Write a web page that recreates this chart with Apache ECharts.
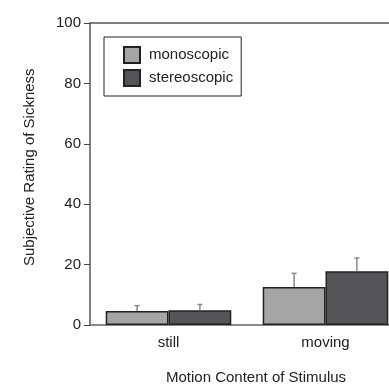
<!DOCTYPE html>
<html>
<head>
<meta charset="utf-8">
<script src="https://cdn.jsdelivr.net/npm/echarts@6/dist/echarts.min.js"></script>
<style>
  html, body { margin: 0; padding: 0; background: #fff; }
  #chart { width: 389px; height: 388px; }
</style>
</head>
<body>
<div id="chart"></div>
<script>
const categories = ['still', 'moving'];
const seriesNames = ['monoscopic', 'stereoscopic'];
const monoValues = [4.6, 12.6];
const stereoValues = [4.9, 17.8];
const monoUpper = [6.4, 17.1];
const stereoUpper = [6.8, 22.2];
const yTicks = [0, 20, 40, 60, 80, 100];

const FONT = '"Liberation Sans", Arial, sans-serif';
const colors = ['#a5a5a5', '#555557'];

const chart = echarts.init(document.getElementById('chart'));

// error bars drawn only upward, offset to sit on each bar's centre
const errorSeries = (values, upper, side) => ({
  type: 'custom',
  silent: true,
  z: 5,
  data: values.map((v, i) => [i, v, upper[i]]),
  renderItem: (params, api) => {
    const band = api.size([1, 0])[0];
    const cx = api.coord([api.value(0), 0])[0] + side * band * 0.2;
    const yBase = api.coord([api.value(0), api.value(1)])[1];
    const yTop = api.coord([api.value(0), api.value(2)])[1];
    const style = { stroke: '#8a8a8a', lineWidth: 1.5 };
    return {
      type: 'group',
      children: [
        { type: 'line', shape: { x1: cx, y1: yBase, x2: cx, y2: yTop }, style },
        { type: 'line', shape: { x1: cx - 2.5, y1: yTop, x2: cx + 2.5, y2: yTop }, style }
      ]
    };
  }
});

const option = {
  animation: false,
  textStyle: { fontFamily: FONT },
  grid: { left: 90, right: -15, top: 23, bottom: 63, outerBoundsMode: 'none', containLabel: false },
  legend: {
    data: seriesNames,
    orient: 'vertical',
    left: 104,
    top: 37,
    padding: [9, 8, 9, 19],
    itemGap: 5,
    itemWidth: 16,
    itemHeight: 16,
    icon: 'rect',
    borderColor: '#222',
    borderWidth: 1,
    textStyle: { fontSize: 15, color: '#222', fontFamily: FONT, padding: [0, 0, 0, 4], lineHeight: 16 }
  },
  xAxis: [
    {
      type: 'category',
      data: categories,
      axisLine: { lineStyle: { color: '#666', width: 1.5 } },
      axisTick: { inside: true, length: 6, lineStyle: { color: '#222', width: 2 } },
      axisLabel: { fontSize: 15, color: '#222', margin: 10 }
    },
    {
      type: 'category',
      data: categories,
      position: 'top',
      axisLine: { lineStyle: { color: '#555', width: 1.5 } },
      axisTick: { show: false },
      axisLabel: { show: false }
    }
  ],
  yAxis: {
    type: 'value',
    min: yTicks[0],
    max: yTicks[yTicks.length - 1],
    interval: 20,
    axisLine: { show: true, lineStyle: { color: '#555', width: 1.5 } },
    axisTick: { show: true, length: 6, lineStyle: { color: '#444', width: 1 } },
    axisLabel: { fontSize: 15, color: '#222', margin: 9 },
    splitLine: { show: false }
  },
  graphic: [
    {
      type: 'text',
      x: 166,
      y: 370,
      style: { text: 'Motion Content of Stimulus', fill: '#222', font: '15px ' + FONT }
    },
    {
      type: 'text',
      x: 22,
      y: 266,
      rotation: Math.PI / 2,
      style: { text: 'Subjective Rating of Sickness', fill: '#222', font: '15px ' + FONT }
    }
  ],
  series: [
    {
      name: seriesNames[0],
      type: 'bar',
      data: monoValues,
      barWidth: '40%',
      barGap: '0%',
      itemStyle: { color: colors[0], borderColor: '#222', borderWidth: 1.5 }
    },
    {
      name: seriesNames[1],
      type: 'bar',
      data: stereoValues,
      barWidth: '40%',
      barGap: '0%',
      itemStyle: { color: colors[1], borderColor: '#222', borderWidth: 1.5 }
    },
    errorSeries(monoValues, monoUpper, -1),
    errorSeries(stereoValues, stereoUpper, 1)
  ]
};

chart.setOption(option);
</script>
</body>
</html>
